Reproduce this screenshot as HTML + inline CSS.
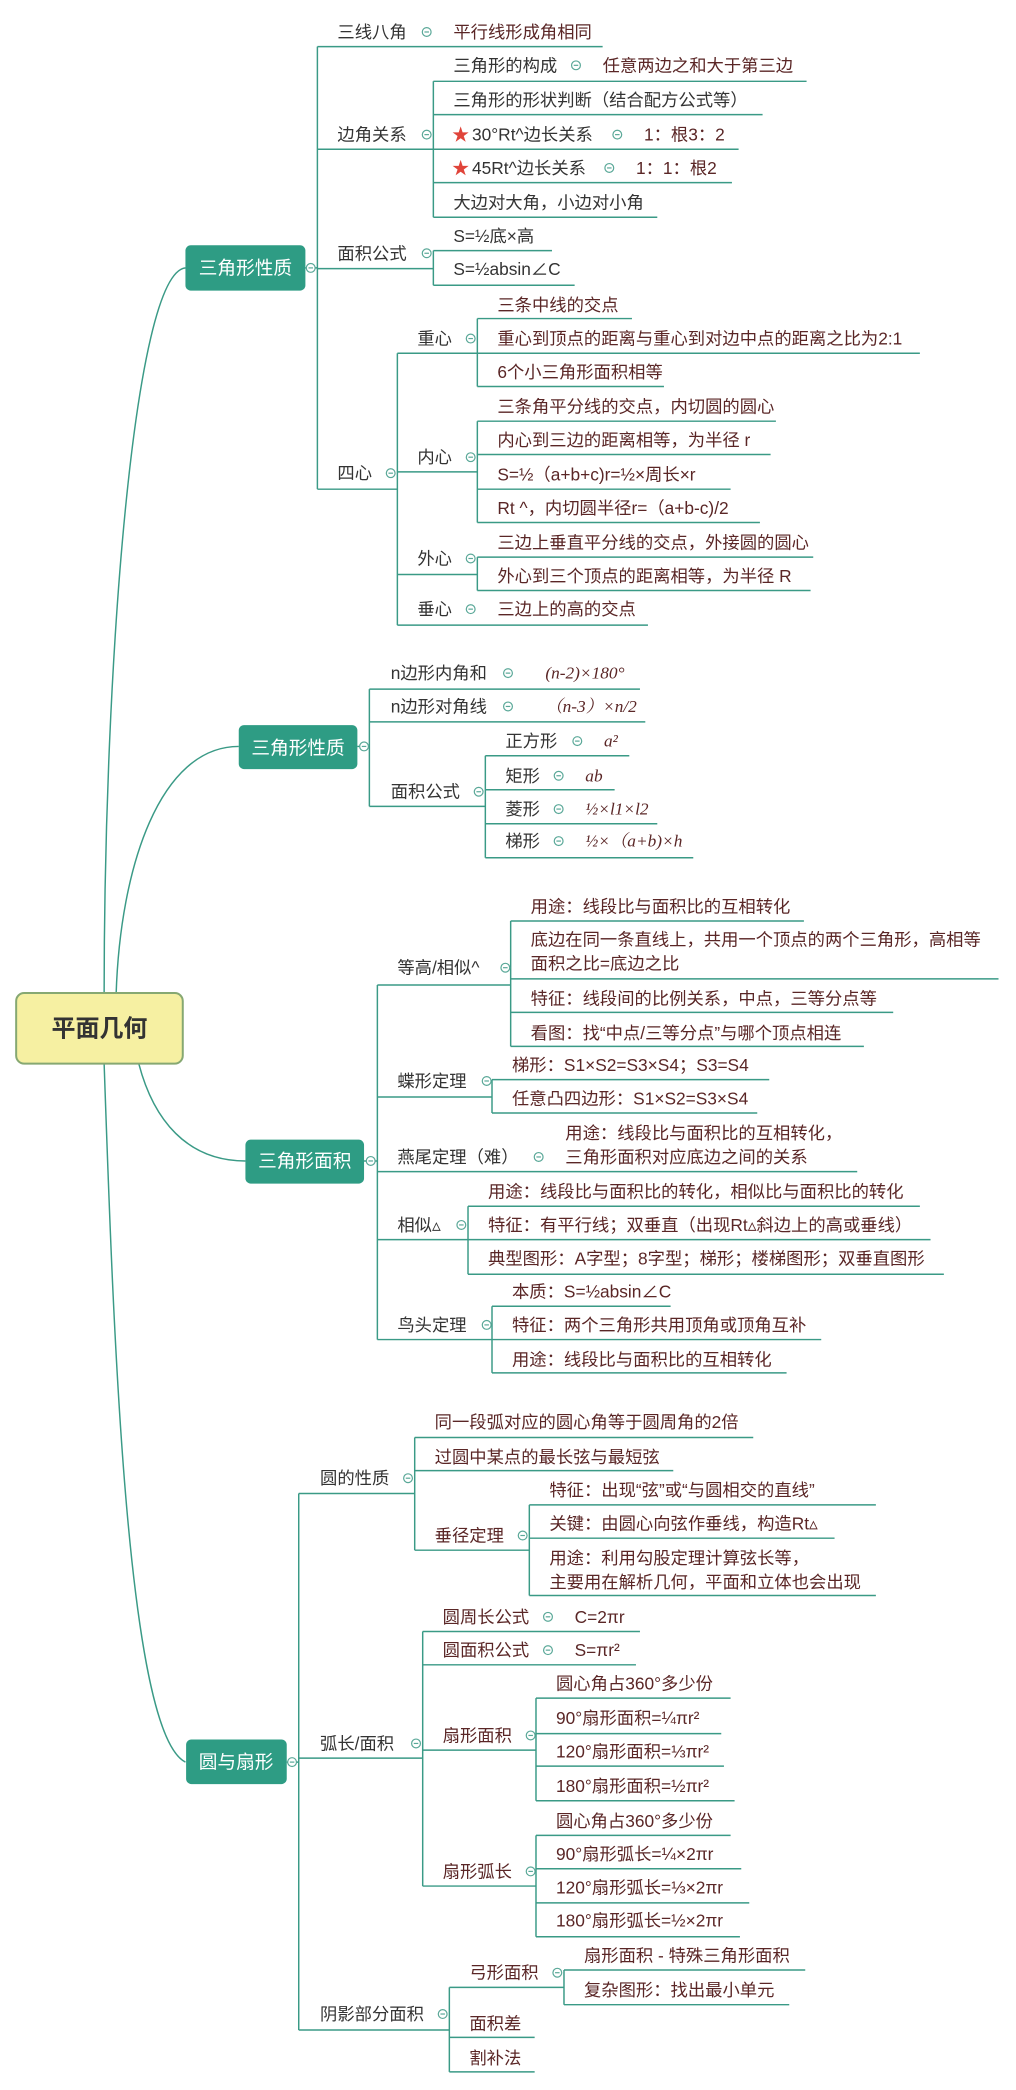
<!DOCTYPE html>
<html><head><meta charset="utf-8">
<style>
html,body{margin:0;padding:0;background:#fff;}
svg{display:block}
text{font-family:"Liberation Sans","Noto Sans CJK SC",sans-serif;font-size:13px;fill:#333;dominant-baseline:central}
.l{fill:#5a2626}
.m{font-family:"Liberation Serif","Noto Serif CJK SC",serif;font-style:italic;fill:#5a2626}
.w{fill:#fff;font-size:14px;text-anchor:middle}
.s{fill:#e0443a}
.ln{fill:none;stroke:#3a9a86;stroke-width:1.1}
</style></head><body>
<svg width="1016" height="2090" viewBox="0 0 762 1568" xmlns="http://www.w3.org/2000/svg">
<defs><g id="m"><circle r="3.3" fill="#fff" stroke="#5aa898" stroke-width="0.9"/><path d="M-1.7,0H1.7" stroke="#5aa898" stroke-width="0.9"/></g></defs>

<!-- main curves -->
<path class="ln" stroke-width="1.6" d="M139,201 C100,205 78,500 78,746"/>
<path class="ln" stroke-width="1.6" d="M179,560 C120,560 90,650 87,746"/>
<path class="ln" stroke-width="1.6" d="M104,798 C115,840 140,871 184,871"/>
<path class="ln" stroke-width="1.6" d="M78,798 C85,1000 95,1300 139,1322"/>

<!-- root -->
<rect x="12" y="745" width="125" height="53" rx="6" fill="#f6f0a2" stroke="#86a872" stroke-width="1.5"/>
<text x="74.5" y="772" style="font-size:18px;font-weight:bold;text-anchor:middle">平面几何</text>

<!-- Section 1 -->
<rect x="139" y="184" width="90" height="34" rx="4" fill="#2e9c84"/>
<text class="w" x="184" y="201">三角形性质</text>
<path class="ln" d="M229,201H238 M238,35V367 M238,35H452 M238,112H325 M238,201.5H325 M238,367H298
M325,61V163 M325,61H605 M325,86H572 M325,112H554 M325,137H549 M325,163H493
M325,188V214 M325,188H414 M325,214H431
M298,265V469 M298,265H358 M298,354H358 M298,431H358 M298,469H486
M358,239V290 M358,239H474 M358,265H690 M358,290H498
M358,316V392 M358,316H582 M358,341H578 M358,367H548 M358,392H570
M358,418V443 M358,418H610 M358,443H608"/>
<use href="#m" x="233" y="201"/><use href="#m" x="320" y="24"/><use href="#m" x="320" y="101"/><use href="#m" x="320" y="190"/><use href="#m" x="293" y="355"/><use href="#m" x="432" y="49"/><use href="#m" x="463" y="101"/><use href="#m" x="457" y="126"/><use href="#m" x="353" y="254"/><use href="#m" x="353" y="343"/><use href="#m" x="353" y="419"/><use href="#m" x="353" y="457"/>
<text x="253" y="24">三线八角</text><text class="l" x="340" y="24">平行线形成角相同</text>
<text x="253" y="101">边角关系</text>
<text x="340" y="49">三角形的构成</text><text class="l" x="452" y="49">任意两边之和大于第三边</text>
<text x="340" y="75">三角形的形状判断（结合配方公式等）</text>
<text class="s" x="339" y="101">★</text><text x="354" y="101">30°Rt^边长关系</text><text class="l" x="483" y="101">1：根3：2</text>
<text class="s" x="339" y="126">★</text><text x="354" y="126">45Rt^边长关系</text><text class="l" x="477" y="126">1：1：根2</text>
<text x="340" y="152">大边对大角，小边对小角</text>
<text x="253" y="190">面积公式</text>
<text x="340" y="177">S=½底×高</text><text x="340" y="202">S=½absin∠C</text>
<text x="253" y="355">四心</text>
<text x="313" y="254">重心</text>
<text class="l" x="373" y="229">三条中线的交点</text>
<text class="l" x="373" y="254">重心到顶点的距离与重心到对边中点的距离之比为2:1</text>
<text class="l" x="373" y="279">6个小三角形面积相等</text>
<text x="313" y="343">内心</text>
<text class="l" x="373" y="305">三条角平分线的交点，内切圆的圆心</text>
<text class="l" x="373" y="330">内心到三边的距离相等，为半径 r</text>
<text class="l" x="373" y="356">S=½（a+b+c)r=½×周长×r</text>
<text class="l" x="373" y="381">Rt ^，内切圆半径r=（a+b-c)/2</text>
<text x="313" y="419">外心</text>
<text class="l" x="373" y="407">三边上垂直平分线的交点，外接圆的圆心</text>
<text class="l" x="373" y="432">外心到三个顶点的距离相等，为半径 R</text>
<text x="313" y="457">垂心</text><text class="l" x="373" y="457">三边上的高的交点</text>

<!-- Section 2 -->
<rect x="179" y="544" width="89" height="33" rx="4" fill="#2e9c84"/>
<text class="w" x="223.5" y="561">三角形性质</text>
<path class="ln" d="M268,560H277 M277,517V605 M277,517H480 M277,541.6H484 M277,605H364
M364,567V643.5 M364,567H472 M364,592.5H461 M364,618H493 M364,643.5H520"/>
<use href="#m" x="273" y="560"/><use href="#m" x="381" y="505"/><use href="#m" x="381" y="530"/><use href="#m" x="359" y="594"/><use href="#m" x="433" y="556"/><use href="#m" x="419" y="582"/><use href="#m" x="419" y="607"/><use href="#m" x="419" y="631"/>
<text x="293" y="505">n边形内角和</text><text class="m" x="409" y="505">(n-2)×180°</text>
<text x="293" y="530">n边形对角线</text><text class="m" x="409" y="530">（n-3）×n/2</text>
<text x="293" y="594">面积公式</text>
<text x="379" y="556">正方形</text><text class="m" x="453" y="556">a²</text>
<text x="379" y="582">矩形</text><text class="m" x="439" y="582">ab</text>
<text x="379" y="607">菱形</text><text class="m" x="439" y="607">½×l1×l2</text>
<text x="379" y="631">梯形</text><text class="m" x="439" y="631">½×（a+b)×h</text>

<!-- Section 3 -->
<rect x="184" y="855" width="89" height="33" rx="4" fill="#2e9c84"/>
<text class="w" x="228.5" y="871">三角形面积</text>
<path class="ln" d="M273,871H283 M283,739V1005 M283,739H383 M283,823H369 M283,879H643 M283,930H351 M283,1005H369
M383,691V785 M383,691H603 M383,734.4H749 M383,759.5H670 M383,785H648
M369,810V835 M369,810H577 M369,835H568
M351,905V956 M351,905H690 M351,930H698 M351,956H708
M369,980V1030 M369,980H503 M369,1005H616 M369,1030H590"/>
<use href="#m" x="278" y="871"/><use href="#m" x="379" y="726"/><use href="#m" x="365" y="811"/><use href="#m" x="404" y="868"/><use href="#m" x="346" y="919"/><use href="#m" x="365" y="994"/>
<text x="298" y="726">等高/相似^</text>
<text class="l" x="398" y="680">用途：线段比与面积比的互相转化</text>
<text class="l" x="398" y="705">底边在同一条直线上，共用一个顶点的两个三角形，高相等</text>
<text class="l" x="398" y="723">面积之比=底边之比</text>
<text class="l" x="398" y="749">特征：线段间的比例关系，中点，三等分点等</text>
<text class="l" x="398" y="775">看图：找“中点/三等分点”与哪个顶点相连</text>
<text x="298" y="811">蝶形定理</text>
<text class="l" x="384" y="799">梯形：S1×S2=S3×S4；S3=S4</text>
<text class="l" x="384" y="824">任意凸四边形：S1×S2=S3×S4</text>
<text x="298" y="868">燕尾定理（难）</text>
<text class="l" x="424" y="850">用途：线段比与面积比的互相转化，</text>
<text class="l" x="424" y="868">三角形面积对应底边之间的关系</text>
<text x="298" y="919">相似▵</text>
<text class="l" x="366" y="894">用途：线段比与面积比的转化，相似比与面积比的转化</text>
<text class="l" x="366" y="919">特征：有平行线；双垂直（出现Rt▵斜边上的高或垂线）</text>
<text class="l" x="366" y="944">典型图形：A字型；8字型；梯形；楼梯图形；双垂直图形</text>
<text x="298" y="994">鸟头定理</text>
<text class="l" x="384" y="969">本质：S=½absin∠C</text>
<text class="l" x="384" y="994">特征：两个三角形共用顶角或顶角互补</text>
<text class="l" x="384" y="1020">用途：线段比与面积比的互相转化</text>

<!-- Section 4 -->
<rect x="139.5" y="1305" width="75.5" height="33.5" rx="4" fill="#2e9c84"/>
<text class="w" x="177" y="1322">圆与扇形</text>
<path class="ln" d="M215,1322H224 M224,1120.5V1523 M224,1120.5H311 M224,1319H317 M224,1523H337
M311,1078.5V1163 M311,1078.5H565 M311,1103.3H505 M311,1163H397
M397,1129V1197 M397,1129H657 M397,1154H626 M397,1197H657
M317,1224V1415 M317,1224H480 M317,1249H477 M317,1313H402 M317,1415H402
M402,1274V1351 M402,1274H548 M402,1300.6H541 M402,1325H543 M402,1351H551
M402,1377V1453 M402,1377H548 M402,1402H556 M402,1427.6H562 M402,1453H555
M337,1491V1554.4 M337,1491H423 M337,1528.5H401 M337,1554.4H401
M423,1478V1504 M423,1478H604 M423,1504H592"/>
<use href="#m" x="219" y="1322"/><use href="#m" x="306" y="1109"/><use href="#m" x="392" y="1152"/><use href="#m" x="312" y="1308"/><use href="#m" x="411" y="1213"/><use href="#m" x="411" y="1238"/><use href="#m" x="398" y="1302"/><use href="#m" x="398" y="1404"/><use href="#m" x="332" y="1511"/><use href="#m" x="418" y="1480"/>
<text x="240" y="1109">圆的性质</text>
<text class="l" x="326" y="1067">同一段弧对应的圆心角等于圆周角的2倍</text>
<text class="l" x="326" y="1093">过圆中某点的最长弦与最短弦</text>
<text class="l" x="326" y="1152">垂径定理</text>
<text class="l" x="412" y="1118">特征：出现“弦”或“与圆相交的直线”</text>
<text class="l" x="412" y="1143">关键：由圆心向弦作垂线，构造Rt▵</text>
<text class="l" x="412" y="1169">用途：利用勾股定理计算弦长等，</text>
<text class="l" x="412" y="1187">主要用在解析几何，平面和立体也会出现</text>
<text x="240" y="1308">弧长/面积</text>
<text class="l" x="332" y="1213">圆周长公式</text><text class="l" x="431" y="1213">C=2πr</text>
<text class="l" x="332" y="1238">圆面积公式</text><text class="l" x="431" y="1238">S=πr²</text>
<text class="l" x="332" y="1302">扇形面积</text>
<text class="l" x="417" y="1263">圆心角占360°多少份</text>
<text class="l" x="417" y="1289">90°扇形面积=¼πr²</text>
<text class="l" x="417" y="1314">120°扇形面积=⅓πr²</text>
<text class="l" x="417" y="1340">180°扇形面积=½πr²</text>
<text class="l" x="332" y="1404">扇形弧长</text>
<text class="l" x="417" y="1366">圆心角占360°多少份</text>
<text class="l" x="417" y="1391">90°扇形弧长=¼×2πr</text>
<text class="l" x="417" y="1416">120°扇形弧长=⅓×2πr</text>
<text class="l" x="417" y="1441">180°扇形弧长=½×2πr</text>
<text x="240" y="1511">阴影部分面积</text>
<text class="l" x="352" y="1480">弓形面积</text>
<text class="l" x="438" y="1467">扇形面积 - 特殊三角形面积</text>
<text class="l" x="438" y="1493">复杂图形：找出最小单元</text>
<text class="l" x="352" y="1518">面积差</text>
<text class="l" x="352" y="1544">割补法</text>
</svg>
</body></html>
